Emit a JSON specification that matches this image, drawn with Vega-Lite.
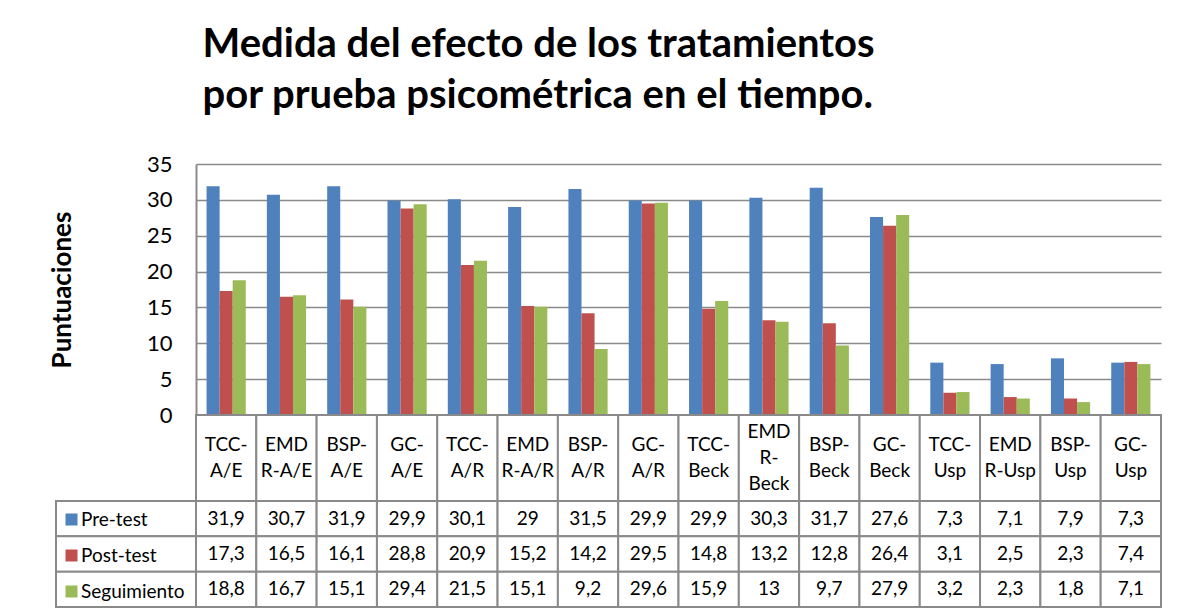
{
  "$schema": "https://vega.github.io/schema/vega-lite/v6.json",
  "background": "white",
  "padding": {"left": 49, "top": 25, "right": 10, "bottom": 5},
  "config": {
    "font": "Lato",
    "locale": {"number": {"decimal": ",", "thousands": ".", "grouping": [3], "currency": ["", " €"]}},
    "view": {"stroke": null},
    "concat": {"spacing": 0}
  },
  "title": {
    "text": ["Medida del efecto de los tratamientos", "por prueba psicométrica en el tiempo."],
    "fontSize": 40,
    "fontWeight": "bold",
    "color": "black",
    "anchor": "start",
    "dx": 153,
    "lineHeight": 51,
    "offset": 37
  },
  "datasets": {
    "scores": [
      {"cat": "TCC-A/E", "series": "Pre-test", "value": 31.9},
      {"cat": "TCC-A/E", "series": "Post-test", "value": 17.3},
      {"cat": "TCC-A/E", "series": "Seguimiento", "value": 18.8},
      {"cat": "EMDR-A/E", "series": "Pre-test", "value": 30.7},
      {"cat": "EMDR-A/E", "series": "Post-test", "value": 16.5},
      {"cat": "EMDR-A/E", "series": "Seguimiento", "value": 16.7},
      {"cat": "BSP-A/E", "series": "Pre-test", "value": 31.9},
      {"cat": "BSP-A/E", "series": "Post-test", "value": 16.1},
      {"cat": "BSP-A/E", "series": "Seguimiento", "value": 15.1},
      {"cat": "GC-A/E", "series": "Pre-test", "value": 29.9},
      {"cat": "GC-A/E", "series": "Post-test", "value": 28.8},
      {"cat": "GC-A/E", "series": "Seguimiento", "value": 29.4},
      {"cat": "TCC-A/R", "series": "Pre-test", "value": 30.1},
      {"cat": "TCC-A/R", "series": "Post-test", "value": 20.9},
      {"cat": "TCC-A/R", "series": "Seguimiento", "value": 21.5},
      {"cat": "EMDR-A/R", "series": "Pre-test", "value": 29},
      {"cat": "EMDR-A/R", "series": "Post-test", "value": 15.2},
      {"cat": "EMDR-A/R", "series": "Seguimiento", "value": 15.1},
      {"cat": "BSP-A/R", "series": "Pre-test", "value": 31.5},
      {"cat": "BSP-A/R", "series": "Post-test", "value": 14.2},
      {"cat": "BSP-A/R", "series": "Seguimiento", "value": 9.2},
      {"cat": "GC-A/R", "series": "Pre-test", "value": 29.9},
      {"cat": "GC-A/R", "series": "Post-test", "value": 29.5},
      {"cat": "GC-A/R", "series": "Seguimiento", "value": 29.6},
      {"cat": "TCC-Beck", "series": "Pre-test", "value": 29.9},
      {"cat": "TCC-Beck", "series": "Post-test", "value": 14.8},
      {"cat": "TCC-Beck", "series": "Seguimiento", "value": 15.9},
      {"cat": "EMDR-Beck", "series": "Pre-test", "value": 30.3},
      {"cat": "EMDR-Beck", "series": "Post-test", "value": 13.2},
      {"cat": "EMDR-Beck", "series": "Seguimiento", "value": 13},
      {"cat": "BSP-Beck", "series": "Pre-test", "value": 31.7},
      {"cat": "BSP-Beck", "series": "Post-test", "value": 12.8},
      {"cat": "BSP-Beck", "series": "Seguimiento", "value": 9.7},
      {"cat": "GC-Beck", "series": "Pre-test", "value": 27.6},
      {"cat": "GC-Beck", "series": "Post-test", "value": 26.4},
      {"cat": "GC-Beck", "series": "Seguimiento", "value": 27.9},
      {"cat": "TCC-Usp", "series": "Pre-test", "value": 7.3},
      {"cat": "TCC-Usp", "series": "Post-test", "value": 3.1},
      {"cat": "TCC-Usp", "series": "Seguimiento", "value": 3.2},
      {"cat": "EMDR-Usp", "series": "Pre-test", "value": 7.1},
      {"cat": "EMDR-Usp", "series": "Post-test", "value": 2.5},
      {"cat": "EMDR-Usp", "series": "Seguimiento", "value": 2.3},
      {"cat": "BSP-Usp", "series": "Pre-test", "value": 7.9},
      {"cat": "BSP-Usp", "series": "Post-test", "value": 2.3},
      {"cat": "BSP-Usp", "series": "Seguimiento", "value": 1.8},
      {"cat": "GC-Usp", "series": "Pre-test", "value": 7.3},
      {"cat": "GC-Usp", "series": "Post-test", "value": 7.4},
      {"cat": "GC-Usp", "series": "Seguimiento", "value": 7.1}
    ],
    "cats": [
      {"cat": "TCC-A/E", "lines": ["TCC-", "A/E"]},
      {"cat": "EMDR-A/E", "lines": ["EMD", "R-A/E"]},
      {"cat": "BSP-A/E", "lines": ["BSP-", "A/E"]},
      {"cat": "GC-A/E", "lines": ["GC-", "A/E"]},
      {"cat": "TCC-A/R", "lines": ["TCC-", "A/R"]},
      {"cat": "EMDR-A/R", "lines": ["EMD", "R-A/R"]},
      {"cat": "BSP-A/R", "lines": ["BSP-", "A/R"]},
      {"cat": "GC-A/R", "lines": ["GC-", "A/R"]},
      {"cat": "TCC-Beck", "lines": ["TCC-", "Beck"]},
      {"cat": "EMDR-Beck", "lines": ["EMD", "R-", "Beck"]},
      {"cat": "BSP-Beck", "lines": ["BSP-", "Beck"]},
      {"cat": "GC-Beck", "lines": ["GC-", "Beck"]},
      {"cat": "TCC-Usp", "lines": ["TCC-", "Usp"]},
      {"cat": "EMDR-Usp", "lines": ["EMD", "R-Usp"]},
      {"cat": "BSP-Usp", "lines": ["BSP-", "Usp"]},
      {"cat": "GC-Usp", "lines": ["GC-", "Usp"]}
    ],
    "series": [
      {"series": "Pre-test"},
      {"series": "Post-test"},
      {"series": "Seguimiento"}
    ]
  },
  "columns": 2,
  "bounds": "flush",
  "spacing": 0,
  "resolve": {"scale": {"x": "independent", "y": "independent"}},
  "concat": [
    {
      "width": 140, "height": 251,
      "data": {"values": [{}]},
      "mark": {"type": "point", "opacity": 0},
      "encoding": {}
    },
    {
      "width": 965, "height": 251,
      "data": {"name": "scores"},
      "mark": {"type": "bar"},
      "encoding": {
        "x": {"field": "cat", "type": "nominal", "sort": null, "scale": {"paddingInner": 0.35, "paddingOuter": 0.175}, "axis": null},
        "xOffset": {"field": "series", "type": "nominal", "sort": null, "scale": {"paddingInner": 0, "paddingOuter": 0}},
        "y": {
          "field": "value", "type": "quantitative",
          "scale": {"domain": [0, 35], "nice": false, "zero": true},
          "axis": {
            "values": [0, 5, 10, 15, 20, 25, 30, 35],
            "title": "Puntuaciones",
            "titleFontSize": 26,
            "titleFontWeight": "bold",
            "titleColor": "black",
            "titlePadding": 71,
            "labelFontSize": 22,
            "labelColor": "black",
            "labelPadding": 24,
            "ticks": false,
            "grid": true,
            "gridColor": "#8a8a8a",
            "gridWidth": 1.5,
            "domain": true,
            "domainColor": "#8a8a8a",
            "domainWidth": 2
          }
        },
        "color": {
          "field": "series", "type": "nominal",
          "scale": {"domain": ["Pre-test", "Post-test", "Seguimiento"], "range": ["#4F81BD", "#C0504D", "#9BBB59"]},
          "legend": {
            "orient": "none",
            "legendX": 6,
            "legendY": 346,
            "title": null,
            "symbolType": "square",
            "symbolSize": 144,
            "symbolStrokeWidth": 0,
            "symbolOpacity": 1,
            "labelFontSize": 19,
            "labelColor": "black",
            "labelOffset": 0,
            "rowPadding": 16,
            "padding": 0
          }
        }
      }
    },
    {
      "width": 140, "height": 86,
      "data": {"values": [{}]},
      "mark": {"type": "point", "opacity": 0},
      "encoding": {}
    },
    {
      "width": 965, "height": 86,
      "data": {"name": "cats"},
      "encoding": {
        "x": {"field": "cat", "type": "nominal", "sort": null, "scale": {"padding": 0}, "axis": null}
      },
      "layer": [
        {"mark": {"type": "rect", "fill": "white", "stroke": "#8a8a8a", "strokeWidth": 2}},
        {"transform": [{"filter": "length(datum.lines) == 2"}],
         "mark": {"type": "text", "fontSize": 19, "lineHeight": 26, "baseline": "middle", "dy": -13, "color": "black"},
         "encoding": {"text": {"field": "lines"}}},
        {"transform": [{"filter": "length(datum.lines) == 3"}],
         "mark": {"type": "text", "fontSize": 19, "lineHeight": 26, "baseline": "middle", "dy": -26, "color": "black"},
         "encoding": {"text": {"field": "lines"}}}
      ]
    },
    {
      "width": 140, "height": 106,
      "data": {"name": "series"},
      "mark": {"type": "rect", "fill": "white", "stroke": "#8a8a8a", "strokeWidth": 2},
      "encoding": {
        "y": {"field": "series", "type": "nominal", "sort": null, "scale": {"padding": 0}, "axis": null}
      }
    },
    {
      "width": 965, "height": 106,
      "data": {"name": "scores"},
      "encoding": {
        "x": {"field": "cat", "type": "nominal", "sort": null, "scale": {"padding": 0}, "axis": null},
        "y": {"field": "series", "type": "nominal", "sort": null, "scale": {"padding": 0}, "axis": null}
      },
      "layer": [
        {"mark": {"type": "rect", "fill": "white", "stroke": "#8a8a8a", "strokeWidth": 2}},
        {"mark": {"type": "text", "fontSize": 19, "color": "black"},
         "encoding": {"text": {"field": "value", "type": "quantitative", "format": "~g"}}}
      ]
    }
  ]
}
